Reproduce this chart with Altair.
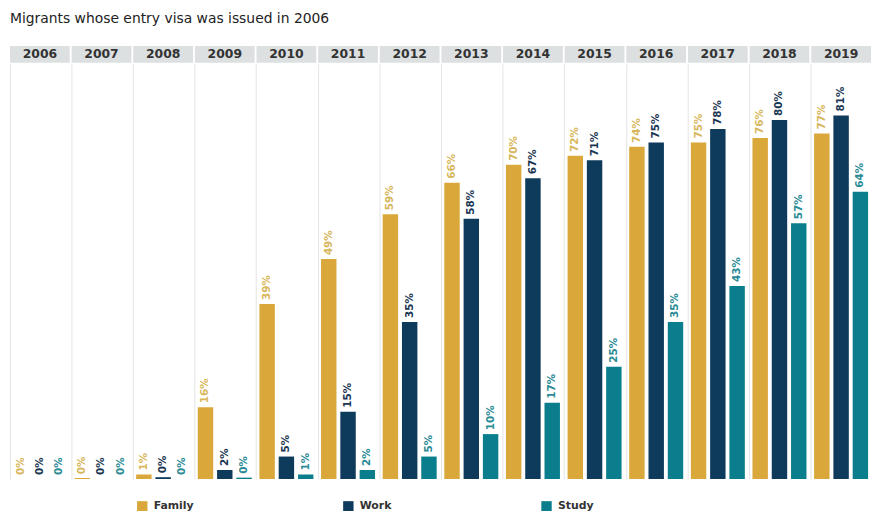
import altair as alt
import pandas as pd

years = [str(y) for y in range(2006, 2020)]
categories = ["Family", "Work", "Study"]
family = [0, 0.2, 1, 16, 39, 49, 59, 66, 70, 72, 74, 75, 76, 77]
work = [0, 0, 0.4, 2, 5, 15, 35, 58, 67, 71, 75, 78, 80, 81]
study = [0, 0, 0, 0.3, 1, 2, 5, 10, 17, 25, 35, 43, 57, 64]

bar_colors = ["#DAA83A", "#0E3A5B", "#0A7E8C"]
label_colors = ["#D8B75C", "#1B3652", "#2A8B95"]

rows = []
for cat, vals in zip(categories, [family, work, study]):
    for y, v in zip(years, vals):
        rows.append({"year": y, "category": cat, "value": v, "label": f"{round(v)}%"})
df = pd.DataFrame(rows)
hdr = pd.DataFrame({"year": years})

FONT = "DejaVu Sans"
YSCALE = alt.Scale(domain=[0, 92.5], nice=False, zero=True)

x_enc = alt.X(
    "year:N",
    sort=years,
    scale=alt.Scale(paddingInner=0.03, paddingOuter=0),
    axis=alt.Axis(grid=True, bandPosition=0, domain=False, ticks=False,
                  labels=False, title=None, gridColor="#e4e4e4"),
)
xo = alt.XOffset("category:N", sort=categories,
                 scale=alt.Scale(paddingInner=0.2, paddingOuter=0.15))

bars = alt.Chart(df).mark_bar().encode(
    x=x_enc,
    xOffset=xo,
    y=alt.Y("value:Q", scale=YSCALE, axis=None),
    color=alt.Color(
        "category:N",
        sort=categories,
        scale=alt.Scale(domain=categories, range=bar_colors),
        legend=alt.Legend(
            orient="none", legendX=128, legendY=441, direction="horizontal",
            title=None, symbolType="square", symbolSize=110, symbolStrokeWidth=0,
            labelFontSize=11, labelFont=FONT, labelFontWeight="bold",
            labelColor="#333333", columnPadding=150, labelOffset=6,
        ),
    ),
)

labels = alt.Chart(df).mark_text(
    angle=270, align="left", baseline="middle", dx=4,
    fontSize=10.5, fontWeight="bold", font=FONT,
).encode(
    x=alt.X("year:N", sort=years),
    xOffset=alt.XOffset("category:N", sort=categories),
    y=alt.Y("value:Q", scale=YSCALE, axis=None),
    text="label:N",
    color=alt.Color("category:N", scale=alt.Scale(domain=categories, range=label_colors),
                    legend=None),
)

hdr_rect = alt.Chart(hdr).mark_rect(color="#dde0e1").encode(
    x=alt.X("year:N", sort=years),
    y=alt.value(-18),
    y2=alt.value(-1),
)
hdr_text = alt.Chart(hdr).mark_text(
    fontSize=12.5, fontWeight="bold", font=FONT, color="#333333", baseline="middle"
).encode(
    x=alt.X("year:N", sort=years),
    y=alt.value(-9.5),
    text="year:N",
)

chart = alt.layer(hdr_rect, hdr_text, bars, labels).resolve_scale(
    color="independent"
).properties(
    width=869,
    height=419,
    padding={"left": 2, "top": 2, "right": 0, "bottom": 2},
    title=alt.TitleParams(
        "Migrants whose entry visa was issued in 2006",
        anchor="start", fontSize=14, fontWeight="normal", font=FONT,
        color="#222222", offset=6, baseline="bottom",
    ),
).configure_view(stroke=None)

chart.save("out.html", embed_options={"renderer": "svg", "actions": False})
